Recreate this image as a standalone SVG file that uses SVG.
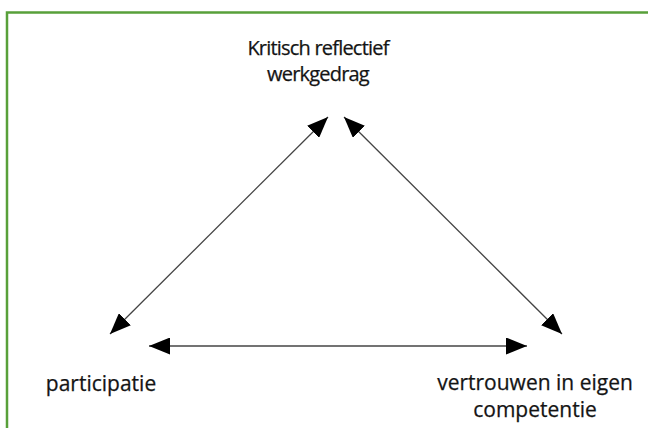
<svg xmlns="http://www.w3.org/2000/svg" width="648" height="428" viewBox="0 0 648 428">
  <style>
    .lbl { font-family: "Open Sans", "DejaVu Sans", sans-serif; font-size: 21px; fill: #141414; stroke: #141414; stroke-width: 0.25; }
    .top { font-size: 20px; letter-spacing: -0.8px; }
    .edge { stroke: #444; stroke-width: 1.3; fill: none; marker-start: url(#head); marker-end: url(#head); }
  </style>
  <defs>
    <marker id="head" viewBox="0 0 21 17" refX="21" refY="8.5" markerWidth="21" markerHeight="17" markerUnits="userSpaceOnUse" orient="auto-start-reverse">
      <path d="M0,0 L21,8.5 L0,17 Z" fill="#000"/>
    </marker>
  </defs>
  <rect width="648" height="428" fill="#fff"/>
  <!-- frame -->
  <path d="M7,428 V12.5 H648" fill="none" stroke="#58a03a" stroke-width="2.5"/>

  <g id="connectors">
    <line class="edge" x1="110" y1="334" x2="328" y2="117"/>
    <line class="edge" x1="344" y1="117" x2="562" y2="334"/>
    <line class="edge" x1="149" y1="346" x2="527" y2="346"/>
  </g>

  <g id="node-werkgedrag">
    <text class="lbl top" x="318" y="55" text-anchor="middle">Kritisch reflectief</text>
    <text class="lbl top" x="318" y="81" text-anchor="middle">werkgedrag</text>
  </g>
  <g id="node-participatie">
    <text class="lbl" x="101" y="391" text-anchor="middle">participatie</text>
  </g>
  <g id="node-competentie">
    <text class="lbl" x="535" y="390" text-anchor="middle">vertrouwen in eigen</text>
    <text class="lbl" x="535" y="417" text-anchor="middle">competentie</text>
  </g>
</svg>
